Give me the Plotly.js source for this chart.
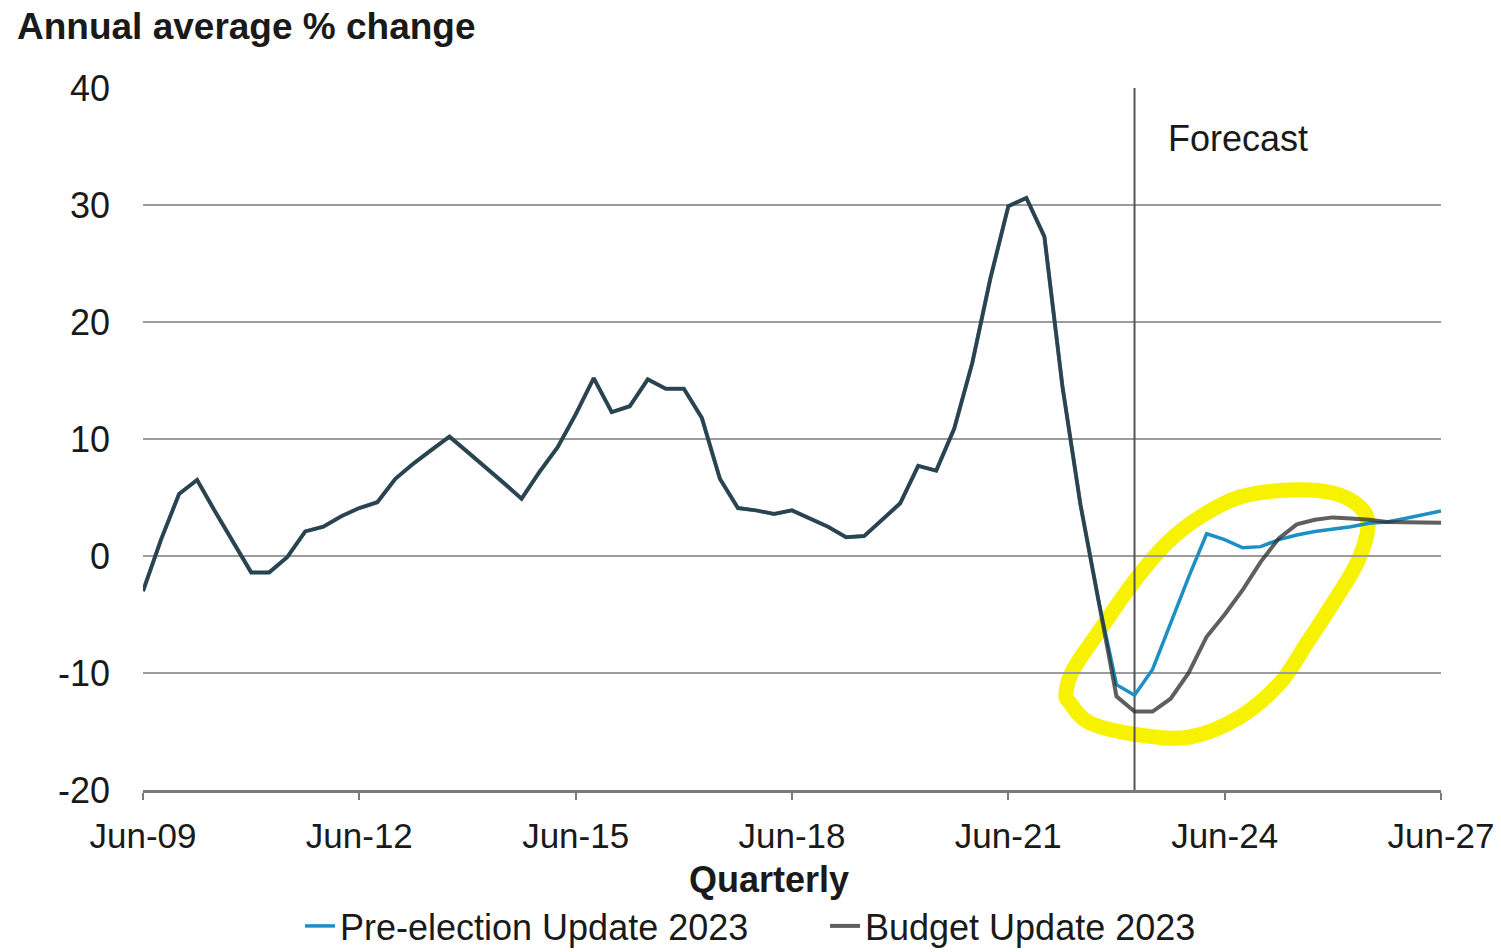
<!DOCTYPE html>
<html>
<head>
<meta charset="utf-8">
<script src="https://cdn.plot.ly/plotly-3.0.1.min.js"></script>
<style>
  html, body { margin: 0; padding: 0; background: #ffffff; }
  #chart { width: 1501px; height: 952px; }
</style>
</head>
<body>
<div id="chart"></div>
<script>
// Quarterly categories
var quarters = [
  "Jun-09","Sep-09","Dec-09",
  "Mar-10","Jun-10","Sep-10","Dec-10",
  "Mar-11","Jun-11","Sep-11","Dec-11",
  "Mar-12","Jun-12","Sep-12","Dec-12",
  "Mar-13","Jun-13","Sep-13","Dec-13",
  "Mar-14","Jun-14","Sep-14","Dec-14",
  "Mar-15","Jun-15","Sep-15","Dec-15",
  "Mar-16","Jun-16","Sep-16","Dec-16",
  "Mar-17","Jun-17","Sep-17","Dec-17",
  "Mar-18","Jun-18","Sep-18","Dec-18",
  "Mar-19","Jun-19","Sep-19","Dec-19",
  "Mar-20","Jun-20","Sep-20","Dec-20",
  "Mar-21","Jun-21","Sep-21","Dec-21",
  "Mar-22","Jun-22","Sep-22","Dec-22",
  "Mar-23","Jun-23","Sep-23","Dec-23",
  "Mar-24","Jun-24","Sep-24","Dec-24",
  "Mar-25","Jun-25","Sep-25","Dec-25",
  "Mar-26","Jun-26","Sep-26","Dec-26",
  "Mar-27","Jun-27"
];

// Annual average % change
var preElection = [
  -3.0, 1.4, 5.3, 6.5, 3.8, 1.2, -1.4, -1.4, -0.1, 2.1,
  2.5, 3.4, 4.1, 4.6, 6.6, 7.9, 9.1, 10.2, 8.9, 7.6,
  6.3, 4.9, 7.2, 9.3, 12.1, 15.2, 12.3, 12.8, 15.1, 14.3,
  14.3, 11.8, 6.6, 4.1, 3.9, 3.6, 3.9, 3.2, 2.5, 1.6,
  1.7, 3.1, 4.5, 7.7, 7.3, 10.9, 16.5, 23.7, 29.9, 30.6,
  27.3, 14.5, 4.4, -3.8, -11.0, -11.9, -9.7, -5.75, -1.8, 1.9,
  1.4, 0.7, 0.8, 1.4, 1.8, 2.1, 2.3, 2.5, 2.8, 2.9,
  3.2, 3.5, 3.85
];

var budget = [
  -3.0, 1.4, 5.3, 6.5, 3.8, 1.2, -1.4, -1.4, -0.1, 2.1,
  2.5, 3.4, 4.1, 4.6, 6.6, 7.9, 9.1, 10.2, 8.9, 7.6,
  6.3, 4.9, 7.2, 9.3, 12.1, 15.2, 12.3, 12.8, 15.1, 14.3,
  14.3, 11.8, 6.6, 4.1, 3.9, 3.6, 3.9, 3.2, 2.5, 1.6,
  1.7, 3.1, 4.5, 7.7, 7.3, 10.9, 16.5, 23.7, 29.9, 30.6,
  27.3, 14.5, 4.4, -3.8, -12.0, -13.3, -13.3, -12.2, -10.0, -6.9,
  -5.0, -2.9, -0.5, 1.5, 2.7, 3.1, 3.3, 3.2, 3.1, 2.9,
  2.9, 2.85, 2.85
];

var xTickLabels = ["Jun-09","Jun-12","Jun-15","Jun-18","Jun-21","Jun-24","Jun-27"];
var yTickValues = [-20, -10, 0, 10, 20, 30, 40];
var yTickLabels = ["-20", "-10", "0", "10", "20", "30", "40"];
var seriesNames = ["Pre-election Update 2023", "Budget Update 2023"];
var forecastStart = "Mar-23";

// Hand-drawn highlight loop (annotation, paper coordinates)
var loopPx = [
  [1070,703],[1090,723],[1140,735],[1190,737],[1240,717],[1280,683],[1307,643],
  [1333,603],[1357,563],[1368,527],[1360,507],[1333,493],[1290,490],[1240,497],
  [1200,517],[1167,543],[1133,583],[1100,630],[1073,670],[1066,693]
];
var PL = 143, PR = 1441, PT = 88, PB = 790;
function toPaper(p){ return [(p[0]-PL)/(PR-PL), (PB-p[1])/(PB-PT)]; }
function smoothClosedPath(pts){
  var n = pts.length, d = "";
  var P = pts.map(toPaper);
  d += "M" + P[0][0].toFixed(5) + "," + P[0][1].toFixed(5);
  for (var i = 0; i < n; i++){
    var p0 = P[(i-1+n)%n], p1 = P[i], p2 = P[(i+1)%n], p3 = P[(i+2)%n];
    var c1 = [p1[0] + (p2[0]-p0[0])/6, p1[1] + (p2[1]-p0[1])/6];
    var c2 = [p2[0] - (p3[0]-p1[0])/6, p2[1] - (p3[1]-p1[1])/6];
    d += " C" + c1[0].toFixed(5) + "," + c1[1].toFixed(5) + " " +
         c2[0].toFixed(5) + "," + c2[1].toFixed(5) + " " +
         p2[0].toFixed(5) + "," + p2[1].toFixed(5);
  }
  return d + " Z";
}

var FONT = '"Liberation Sans", Arial, Helvetica, sans-serif';

var traces = [
  {
    x: quarters, y: preElection, type: "scatter", mode: "lines",
    name: seriesNames[0],
    line: { color: "#1e8fc4", width: 3.5 }
  },
  {
    x: quarters, y: budget, type: "scatter", mode: "lines",
    name: seriesNames[1],
    line: { color: "rgba(45,45,45,0.76)", width: 4 }
  }
];

var layout = {
  width: 1501, height: 952,
  paper_bgcolor: "#ffffff", plot_bgcolor: "#ffffff",
  margin: { l: PL, r: 1501-PR, t: PT, b: 952-PB, pad: 0 },
  font: { family: FONT, size: 36, color: "#1a1a1a" },
  title: {
    text: "<b>Annual average % change</b>",
    font: { family: FONT, size: 37, color: "#1a1a1a" },
    xref: "container", yref: "container",
    x: 17/1501, xanchor: "left",
    y: 1 - 26/952, yanchor: "middle"
  },
  xaxis: {
    type: "category",
    categoryorder: "array", categoryarray: quarters,
    range: [0, quarters.length - 1],
    tickmode: "array", tickvals: xTickLabels, ticktext: xTickLabels,
    ticks: "outside", ticklen: 7, tickwidth: 2, tickcolor: "#7a7a7a",
    showline: true, linecolor: "#7a7a7a", linewidth: 2.5,
    showgrid: false, zeroline: false,
    tickfont: { family: FONT, size: 35, color: "#1a1a1a" },
    ticklabelstandoff: 6,
    fixedrange: true
  },
  yaxis: {
    range: [-20, 40],
    tickmode: "array", tickvals: yTickValues, ticktext: yTickLabels,
    showgrid: true, gridcolor: "#9c9c9c", gridwidth: 2,
    zeroline: false, showline: false, ticks: "",
    tickfont: { family: FONT, size: 36, color: "#1a1a1a" },
    ticklabelstandoff: 32,
    fixedrange: true
  },
  showlegend: true,
  legend: {
    orientation: "h",
    xref: "container", yref: "container",
    x: 300/1501, xanchor: "left",
    y: 1 - 926/952, yanchor: "middle",
    font: { family: FONT, size: 36, color: "#1a1a1a" },
    bgcolor: "rgba(0,0,0,0)",
    entrywidth: 480,
    itemwidth: 30,
    traceorder: "normal"
  },
  annotations: [
    {
      text: "<b>Quarterly</b>", showarrow: false,
      xref: "paper", yref: "paper",
      x: (769-PL)/(PR-PL), xanchor: "center",
      y: (PB-879)/(PB-PT), yanchor: "middle",
      font: { family: FONT, size: 36, color: "#1a1a1a" }
    },
    {
      text: "Forecast", showarrow: false,
      xref: "paper", yref: "paper",
      x: (1166-PL)/(PR-PL), xanchor: "left",
      y: (PB-139)/(PB-PT), yanchor: "middle",
      font: { family: FONT, size: 36, color: "#1a1a1a" }
    }
  ],
  shapes: [
    {
      type: "line", xref: "x", yref: "y",
      x0: forecastStart, x1: forecastStart, y0: -20, y1: 40,
      line: { color: "#555555", width: 2 }, layer: "between"
    },
    {
      type: "path", xref: "paper", yref: "paper",
      path: smoothClosedPath(loopPx),
      line: { color: "#f7f200", width: 15 },
      fillcolor: "rgba(0,0,0,0)",
      layer: "between"
    }
  ]
};

Plotly.newPlot("chart", traces, layout, { displayModeBar: false, staticPlot: true });
</script>
</body>
</html>
